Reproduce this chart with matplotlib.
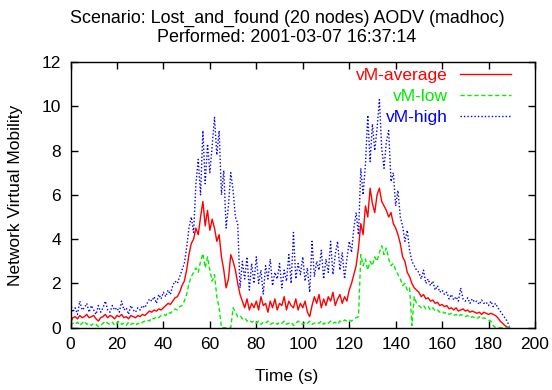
import matplotlib
matplotlib.use("Agg")
import matplotlib.pyplot as plt
import numpy as np

plt.rcParams['font.family'] = ['Liberation Sans', 'DejaVu Sans']

title_lines = ["Scenario: Lost_and_found (20 nodes) AODV (madhoc)",
               "Performed: 2001-03-07 16:37:14"]
x_label = "Time (s)"
y_label = "Network Virtual Mobility"
series_labels = ["vM-average", "vM-low", "vM-high"]

time_s = list(range(0, 190))

vm_average = [
    0.2, 0.45, 0.5, 0.4, 0.55, 0.45, 0.5, 0.6, 0.45, 0.5,
    0.55, 0.4, 0.3, 0.45, 0.5, 0.6, 0.45, 0.55, 0.5, 0.4,
    0.55, 0.5, 0.6, 0.45, 0.5, 0.4, 0.55, 0.5, 0.45, 0.55,
    0.5, 0.6, 0.55, 0.65, 0.75, 0.7, 0.8, 0.75, 0.85, 0.8,
    0.9, 1.0, 1.1, 1.05, 1.2, 1.35, 1.4, 1.6, 1.9, 2.1,
    2.6, 3.3, 3.8, 4.0, 4.5, 4.2, 5.0, 5.7, 4.6, 5.3,
    4.4, 4.9, 4.5, 3.9, 4.2, 3.2, 2.6, 1.8, 2.2, 3.3,
    3.0, 2.6, 2.0, 1.5, 1.2, 0.9, 1.3, 0.8, 1.1, 0.9,
    1.2, 0.8, 1.4, 1.0, 1.1, 0.7, 1.2, 0.9, 1.3, 0.8,
    1.1, 1.0, 1.4, 0.8, 1.2, 1.0, 0.9, 1.3, 0.8, 1.1,
    0.9, 1.2, 0.7, 0.5, 1.0, 1.4, 1.1, 1.5, 0.9, 1.3,
    1.0, 1.4, 1.2, 1.6, 1.0, 1.3, 1.5, 1.1, 1.4, 1.2,
    1.7, 2.0, 2.4, 2.8, 3.6, 4.7, 4.2, 5.5, 5.0, 6.3,
    5.6, 5.2, 6.0, 6.3, 5.7, 5.5, 5.3, 5.0, 5.2, 4.7,
    4.5, 4.2, 3.8, 3.2, 3.0, 2.5, 2.3, 2.0, 1.8, 1.7,
    1.6, 1.4, 1.5, 1.3, 1.35, 1.2, 1.25, 1.1, 1.15, 1.0,
    1.05, 0.95, 1.0, 0.85, 0.9, 0.8, 0.9, 0.75, 0.8, 0.85,
    0.75, 0.8, 0.7, 0.75, 0.7, 0.65, 0.7, 0.6, 0.7, 0.65,
    0.6, 0.65, 0.6, 0.55, 0.45, 0.3, 0.2, 0.1, 0.03, 0.0,
]

vm_low = [
    0.1, 0.2, 0.15, 0.25, 0.1, 0.2, 0.3, 0.15, 0.2, 0.1,
    0.2, 0.15, 0.05, 0.1, 0.2, 0.3, 0.2, 0.15, 0.25, 0.1,
    0.2, 0.3, 0.15, 0.2, 0.1, 0.25, 0.15, 0.2, 0.1, 0.2,
    0.15, 0.25, 0.3, 0.35, 0.3, 0.45, 0.4, 0.5, 0.45, 0.55,
    0.6, 0.55, 0.7, 0.65, 0.75, 0.85, 0.8, 0.95, 1.0, 1.2,
    1.5, 2.0, 2.3, 2.5, 2.7, 2.5, 3.0, 3.35, 2.7, 3.2,
    2.6, 2.1, 2.4, 1.4, 0.9, 0.0, 0.0, 0.0, 0.0, 0.0,
    0.9, 0.7, 0.5, 0.55, 0.4, 0.45, 0.3, 0.35, 0.25, 0.3,
    0.2, 0.3, 0.15, 0.25, 0.2, 0.3, 0.15, 0.2, 0.25, 0.15,
    0.25, 0.2, 0.3, 0.15, 0.2, 0.25, 0.1, 0.2, 0.3, 0.2,
    0.15, 0.25, 0.2, 0.3, 0.15, 0.2, 0.25, 0.2, 0.3, 0.15,
    0.25, 0.2, 0.3, 0.2, 0.25, 0.15, 0.3, 0.25, 0.35, 0.3,
    0.35, 0.3, 0.4, 0.45, 0.5, 3.3, 2.8, 3.1, 2.6, 3.0,
    2.8, 3.2, 3.0, 3.4, 3.7, 3.3, 3.6, 3.1, 2.8, 2.9,
    2.6, 2.4, 2.2, 1.9, 2.0, 1.7, 1.8, 0.1, 1.4, 1.1,
    1.0, 0.9, 1.0, 0.85, 0.95, 0.8, 0.9, 0.75, 0.8, 0.7,
    0.75, 0.65, 0.7, 0.6, 0.65, 0.55, 0.6, 0.5, 0.6, 0.55,
    0.5, 0.55, 0.45, 0.5, 0.45, 0.4, 0.5, 0.4, 0.45, 0.4,
    0.35, 0.3, 0.1, 0.0, 0.0, 0.0, 0.0, 0.0, 0.0, 0.0,
]

vm_high = [
    1.1, 0.7, 0.9, 0.6, 1.2, 0.8, 0.9, 1.1, 0.7, 1.0,
    0.8, 0.6, 1.0, 0.7, 0.9, 1.2, 0.8, 0.7, 1.0, 0.8,
    0.9, 0.7, 1.2, 0.8, 0.9, 0.6, 1.0, 0.8, 0.7, 0.9,
    0.8, 1.0, 0.9, 1.1, 1.3, 1.2, 1.4, 1.1, 1.5, 1.3,
    1.6, 1.4, 1.7, 1.5, 1.9, 2.1, 2.0, 2.3, 2.6, 2.9,
    3.6, 4.5, 5.0, 4.3, 6.5, 7.6, 6.0, 8.9, 6.5, 8.3,
    7.0, 8.2, 9.5, 7.8, 8.9, 6.0, 7.1, 4.5, 5.5, 7.0,
    6.2, 5.0, 4.7, 1.8, 3.0, 2.2, 3.2, 1.7, 2.9, 2.0,
    3.2, 2.0, 2.6, 1.5, 2.8, 2.2, 3.1, 1.9, 2.5, 2.2,
    2.9, 1.8, 2.6, 2.1, 3.3, 2.0, 4.3, 2.2, 2.9, 2.4,
    3.2, 2.1, 2.7, 1.6, 3.9, 2.3, 3.0, 2.6, 3.5, 2.2,
    3.1, 2.5, 3.9, 2.4, 3.3, 3.9, 2.6, 3.4, 2.2, 3.1,
    3.9, 3.4, 4.5, 5.2, 4.2, 7.2, 6.0, 7.4, 9.6, 7.5,
    9.2, 8.0, 9.0, 10.3, 8.1, 7.2, 8.4, 8.9, 6.6, 7.0,
    5.5, 6.2, 5.0, 4.6, 3.9, 4.4, 3.5, 3.0, 2.8, 2.6,
    2.5, 2.2, 2.6, 2.0, 2.2, 1.9, 2.1, 1.7, 1.9, 1.6,
    1.7, 1.5, 1.6, 1.3, 1.5, 1.25, 1.4, 1.2, 1.8, 1.3,
    1.2, 1.35, 1.1, 1.3, 1.15, 1.2, 1.05, 1.25, 1.1, 1.15,
    1.0, 1.2, 0.95, 1.1, 0.9, 0.75, 0.6, 0.45, 0.3, 0.05,
]

x_ticks = list(range(0, 201, 20))
y_ticks = list(range(0, 13, 2))

W, H = 552, 390
fig = plt.figure(figsize=(W / 100, H / 100), dpi=100)
ax = fig.add_axes([70.5 / W, 1 - 327.7 / H, (535 - 70.5) / W, (327.7 - 62) / H])

fs = 12.5
ax.plot(time_s, vm_average, color='#ff0000', lw=1.0, ls='-', label=series_labels[0])
ax.plot(time_s, vm_low, color='#00ee00', lw=1.0, ls=(0, (3, 2)), label=series_labels[1])
ax.plot(time_s, vm_high, color='#0000ff', lw=1.0, ls=(0, (1, 1.5)), label=series_labels[2])

ax.set_xlim(0, 200)
ax.set_ylim(0, 12)
ax.set_xticks(x_ticks)
ax.set_yticks(y_ticks)
ax.tick_params(direction='in', length=5, width=1, top=True, right=True,
               labelsize=fs, pad=7)
for s in ax.spines.values():
    s.set_linewidth(1.0)

leg = ax.legend(loc='upper right', bbox_to_anchor=(0.955, 0.99), frameon=False,
                markerfirst=False, labelcolor='linecolor', fontsize=fs,
                handlelength=2.9, handletextpad=0.7, labelspacing=0.33,
                borderaxespad=0.0, borderpad=0.2)

fig.text(287 / W, 1 - 10 / H, title_lines[0] + "\n" + title_lines[1],
         ha='center', va='top', fontsize=12.9, linespacing=1.12)
fig.text(287 / W, 1 - 376 / H, x_label, ha='center', va='center', fontsize=fs)
fig.text(16 / W, 1 - 195 / H, y_label, ha='center', va='center',
         rotation=90, fontsize=fs)

fig.savefig("out.png", dpi=100)
